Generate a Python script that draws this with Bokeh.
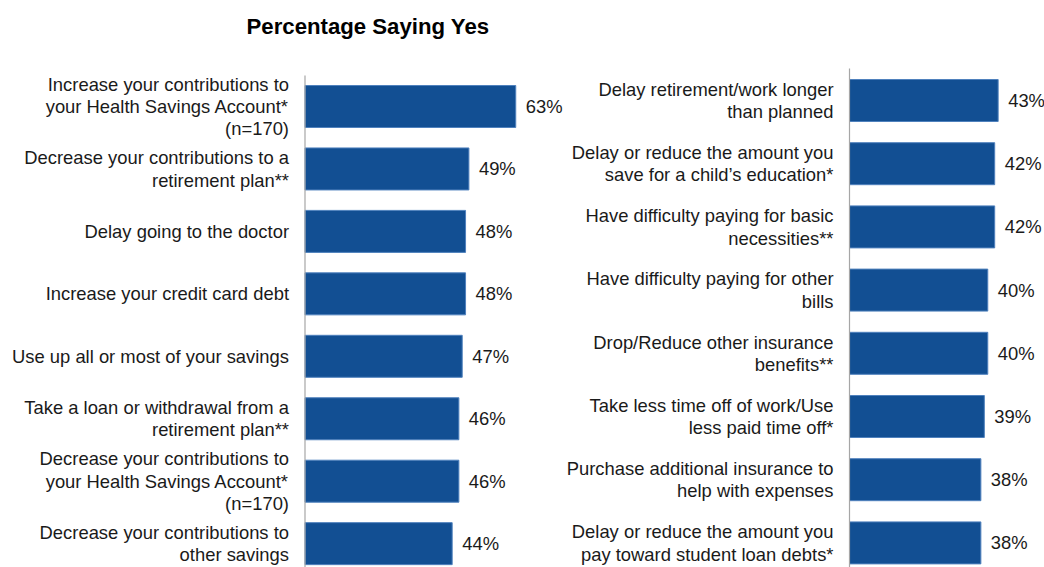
from bokeh.plotting import figure
from bokeh.models import Range1d, ColumnDataSource
from bokeh.embed import file_html
from bokeh.resources import INLINE
from bokeh.core.properties import value

title_text = "Percentage Saying Yes"

left_categories = [
    "Increase your contributions to\nyour Health Savings Account*\n(n=170)",
    "Decrease your contributions to a\nretirement plan**",
    "Delay going to the doctor",
    "Increase your credit card debt",
    "Use up all or most of your savings",
    "Take a loan or withdrawal from a\nretirement plan**",
    "Decrease your contributions to\nyour Health Savings Account*\n(n=170)",
    "Decrease your contributions to\nother savings",
]
left_values = [63, 49, 48, 48, 47, 46, 46, 44]

right_categories = [
    "Delay retirement/work longer\nthan planned",
    "Delay or reduce the amount you\nsave for a child\u2019s education*",
    "Have difficulty paying for basic\nnecessities**",
    "Have difficulty paying for other\nbills",
    "Drop/Reduce other insurance\nbenefits**",
    "Take less time off of work/Use\nless paid time off*",
    "Purchase additional insurance to\nhelp with expenses",
    "Delay or reduce the amount you\npay toward student loan debts*",
]
right_values = [43, 42, 42, 40, 40, 39, 38, 38]

FONT = "Liberation Sans"
BAR_FILL = "#124F93"
BAR_LINE = "#4F81BD"
AXIS_COLOR = "#A6A6A6"
W, H = 1044, 567

# pixel geometry of the two panels
L_AXIS, L_SCALE, L_FIRST, L_PITCH, L_TOP = 304.5, 3.345, 106, 62.45, 75
R_AXIS, R_SCALE, R_FIRST, R_PITCH, R_TOP = 849, 3.457, 100, 63.2, 68
BAR_PX = 42


def xr(axis_px, scale):
    return Range1d(-axis_px / scale, (W - axis_px) / scale)


def yr(first, pitch):
    return Range1d((H - first) / pitch, -first / pitch)


p = figure(width=W, height=H, output_backend="svg", toolbar_location=None,
           x_range=xr(L_AXIS, L_SCALE), y_range=yr(L_FIRST, L_PITCH),
           min_border=0, min_border_left=0, min_border_right=0,
           min_border_top=0, min_border_bottom=0)
p.extra_x_ranges = {"rx": xr(R_AXIS, R_SCALE)}
p.extra_y_ranges = {"ry": yr(R_FIRST, R_PITCH)}
p.axis.visible = False
p.grid.visible = False
p.outline_line_color = None
p.background_fill_color = "white"
p.border_fill_color = "white"


def panel(cats, vals, first, pitch, top, **rn):
    n = len(vals)
    src = ColumnDataSource(dict(y=list(range(n)), v=vals, cat=cats,
                                lab=[f"{v}%" for v in vals], zero=[0] * n))
    p.hbar(y="y", left=0, right="v", height=BAR_PX / pitch, source=src,
           fill_color=BAR_FILL, line_color=BAR_LINE, line_width=1, **rn)
    p.segment(x0=[0], y0=[(top - first) / pitch], x1=[0], y1=[(H - first) / pitch],
              line_color=AXIS_COLOR, line_width=1.2, **rn)
    p.text(x="zero", y="y", text="cat", source=src, x_offset=-16,
           text_align="right", text_baseline="middle",
           text_font=value(FONT), text_font_size="18.4px", text_color="#1a1a1a",
           text_line_height=1.07, **rn)
    p.text(x="v", y="y", text="lab", source=src, x_offset=10,
           text_align="left", text_baseline="middle",
           text_font=value(FONT), text_font_size="18.4px", text_color="#1a1a1a", **rn)


panel(left_categories, left_values, L_FIRST, L_PITCH, L_TOP)
panel(right_categories, right_values, R_FIRST, R_PITCH, R_TOP,
      x_range_name="rx", y_range_name="ry")

p.text(x=[(367.5 - L_AXIS) / L_SCALE], y=[(26 - L_FIRST) / L_PITCH],
       text=[title_text], text_align="center", text_baseline="middle",
       text_font=value(FONT), text_font_size="22.2px", text_font_style="bold",
       text_color="black")

open("out.html", "w").write(file_html(p, INLINE))
